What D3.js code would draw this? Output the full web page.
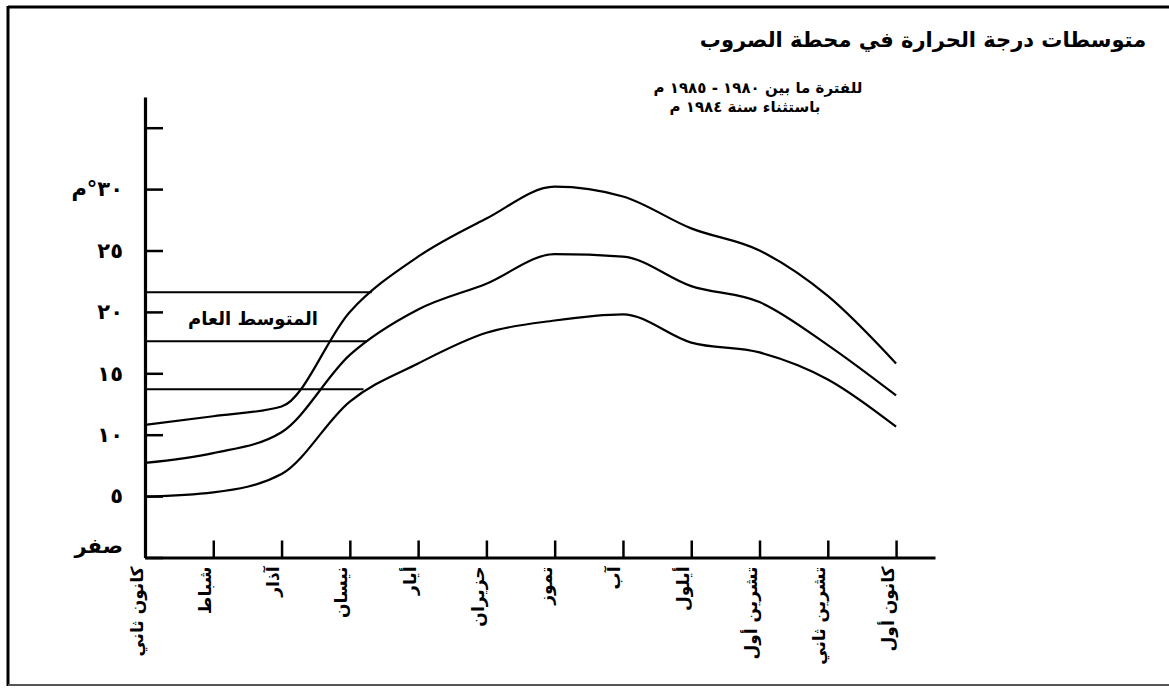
<!DOCTYPE html>
<html>
<head>
<meta charset="utf-8">
<script src="https://cdn.jsdelivr.net/npm/d3@7"></script>
<style>
  html, body { margin: 0; padding: 0; background: #fff; }
  svg { display: block; }
</style>
</head>
<body>
<div id="chart"></div>
<script>
// أشهر السنة
const months = ['كانون ثاني', 'شباط', 'آذار', 'نيسان', 'أيار', 'حزيران', 'تموز', 'آب', 'أيلول', 'تشرين أول', 'تشرين ثاني', 'كانون أول'];

// درجات الحرارة (م°) مقروءة من الرسم
const maxTemp = [10.8, 11.5, 12.3, 20.0, 24.5, 27.6, 30.2, 29.4, 26.8, 25.0, 21.3, 15.8];
const meanTemp = [7.7, 8.5, 10.2, 16.5, 20.2, 22.3, 24.7, 24.5, 22.1, 20.8, 17.3, 13.2];
const minTemp = [4.95, 5.3, 6.8, 12.7, 15.8, 18.3, 19.3, 19.8, 17.5, 16.7, 14.5, 10.65];

// المتوسط العام لكل سلسلة، ونهاية الخط (بالأشهر)
const annualMeans = [21.6, 17.6, 13.7];
const annualMeanEnds = [3.32, 3.25, 3.2];

const yTicks = [0, 5, 10, 15, 20, 25, 30, 35];
const yTickLabels = ['صفر', '٥', '١٠', '١٥', '٢٠', '٢٥', '٣٠°م', ''];

const titleLines = [
  'متوسطات درجة الحرارة في محطة الصروب',
  'للفترة ما بين ١٩٨٠ - ١٩٨٥ م',
  'باستثناء سنة ١٩٨٤ م'
];
const meanLabel = 'المتوسط العام';

const W = 1169, H = 688;
const FONT = 'DejaVu Sans, sans-serif';

const svg = d3.select('#chart').append('svg')
  .attr('width', W).attr('height', H)
  .attr('viewBox', `0 0 ${W} ${H}`);

svg.append('rect').attr('width', W).attr('height', H).attr('fill', '#fff');

// الإطار
const frame = svg.append('g').attr('stroke', '#000').attr('fill', 'none');
frame.append('line').attr('x1', 8).attr('y1', 7).attr('x2', W).attr('y2', 7).attr('stroke-width', 3);
frame.append('line').attr('x1', 8).attr('y1', 6).attr('x2', 8).attr('y2', 686).attr('stroke-width', 3);
frame.append('line').attr('x1', 8).attr('y1', 685).attr('x2', W).attr('y2', 685).attr('stroke-width', 2).attr('stroke', '#555');

const x = d3.scaleLinear().domain([0, 11.57]).range([145, 935]);
const y = d3.scaleLinear().domain([0, 37.5]).range([557.5, 97]);

// المحور الرأسي
const yAxis = svg.append('g')
  .attr('transform', `translate(${x(0)},0)`)
  .call(d3.axisLeft(y)
    .tickValues(yTicks)
    .tickSizeInner(-18)
    .tickSizeOuter(0)
    .tickPadding(22)
    .tickFormat((d, i) => yTickLabels[i]));

yAxis.select('.domain').attr('stroke-width', 3.2);
yAxis.selectAll('.tick line').attr('stroke-width', 2.5);
yAxis.selectAll('.tick text')
  .attr('font-family', FONT)
  .attr('font-size', '21px')
  .attr('font-weight', 'bold')
  .attr('fill', '#000')
  .attr('dy', (d) => d === 0 ? '-0.25em' : '0.32em');

// المحور الأفقي
const xAxis = svg.append('g')
  .attr('transform', `translate(0,${y(0)})`)
  .call(d3.axisBottom(x)
    .tickValues(d3.range(months.length))
    .tickSizeInner(-17)
    .tickSizeOuter(0)
    .tickFormat((d, i) => months[i]));

xAxis.select('.domain').attr('stroke-width', 3.2);
xAxis.selectAll('.tick line').attr('stroke-width', 2.5);
xAxis.selectAll('.tick text')
  .attr('transform', 'rotate(-90)')
  .attr('text-anchor', 'end')
  .attr('x', -9)
  .attr('y', -3)
  .attr('dy', 0)
  .attr('font-family', FONT)
  .attr('font-size', '17px')
  .attr('font-weight', 'bold')
  .attr('fill', '#000');

// خطوط المتوسط العام
svg.append('g')
  .selectAll('line')
  .data(annualMeans)
  .join('line')
  .attr('x1', x(0))
  .attr('x2', (d, i) => x(annualMeanEnds[i]))
  .attr('y1', d => y(d))
  .attr('y2', d => y(d))
  .attr('stroke', '#000')
  .attr('stroke-width', 2);

svg.append('text')
  .attr('x', 318)
  .attr('y', (y(annualMeans[0]) + y(annualMeans[1])) / 2 + 8)
  .attr('text-anchor', 'end')
  .attr('font-family', FONT)
  .attr('font-size', '18px')
  .attr('font-weight', 'bold')
  .text(meanLabel);

// المنحنيات
const line = d3.line()
  .x((d, i) => x(i))
  .y(d => y(d))
  .curve(d3.curveMonotoneX);

svg.append('g')
  .attr('fill', 'none')
  .attr('stroke', '#000')
  .attr('stroke-width', 2.2)
  .attr('stroke-linejoin', 'round')
  .selectAll('path')
  .data([maxTemp, meanTemp, minTemp])
  .join('path')
  .attr('d', line);

// العنوان
const title = svg.append('g')
  .attr('font-family', FONT)
  .attr('font-weight', 'bold')
  .attr('text-anchor', 'middle')
  .attr('fill', '#000');

title.append('text').attr('x', 923).attr('y', 47).attr('font-size', '21px').text(titleLines[0]);
title.append('text').attr('x', 758).attr('y', 93).attr('font-size', '15px').text(titleLines[1]);
title.append('text').attr('x', 745).attr('y', 112).attr('font-size', '15px').text(titleLines[2]);
</script>
</body>
</html>
